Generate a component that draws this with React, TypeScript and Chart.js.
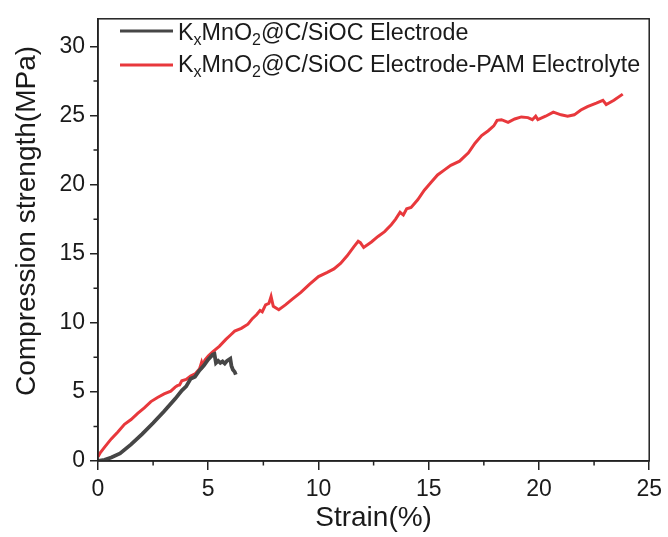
import React, { useEffect, useRef } from "react";
import { Chart, registerables } from "chart.js";

Chart.register(...registerables);

// ---- Data ----
const electrodeStrain = [0, 0.3, 0.6, 1.0, 1.5, 2.0, 2.5, 3.0, 3.5, 3.8, 4.0, 4.2, 4.4, 4.6, 4.8, 5.0, 5.2, 5.28, 5.35, 5.45, 5.55, 5.65, 5.75, 5.85, 6.0, 6.05, 6.12, 6.2, 6.25];
const electrodeStress = [0, 0.08, 0.25, 0.55, 1.2, 1.95, 2.75, 3.6, 4.5, 5.1, 5.4, 5.95, 6.1, 6.55, 6.9, 7.35, 7.7, 7.75, 7.1, 7.25, 7.1, 7.2, 7.05, 7.25, 7.4, 6.9, 6.6, 6.45, 6.25];

const pamStrain = [0, 0.1, 0.3, 0.6, 0.9, 1.2, 1.5, 1.8, 2.1, 2.4, 2.7, 3.0, 3.3, 3.5, 3.6, 3.7, 3.8, 4.0, 4.2, 4.4, 4.6, 4.7, 4.75, 4.85, 5.0, 5.2, 5.5, 5.8, 6.0, 6.2, 6.5, 6.8, 7.0, 7.2, 7.35, 7.45, 7.6, 7.75, 7.85, 7.95, 8.2, 8.5, 8.8, 9.2, 9.6, 10.0, 10.4, 10.7, 11.0, 11.3, 11.6, 11.8, 11.9, 12.05, 12.4, 12.7, 13.0, 13.3, 13.5, 13.7, 13.85, 14.0, 14.2, 14.5, 14.8, 15.1, 15.4, 15.7, 16.0, 16.4, 16.8, 17.1, 17.4, 17.7, 17.95, 18.1, 18.3, 18.6, 18.9, 19.2, 19.5, 19.7, 19.85, 19.95, 20.3, 20.65, 21.0, 21.3, 21.6, 21.9, 22.2, 22.6, 22.9, 23.05, 23.4, 23.8];
const pamStress = [0.3, 0.6, 1.0, 1.6, 2.1, 2.65, 3.0, 3.45, 3.85, 4.3, 4.6, 4.85, 5.05, 5.35, 5.45, 5.5, 5.8, 5.9, 6.15, 6.3, 6.65, 7.15, 6.9, 7.3, 7.6, 7.9, 8.3, 8.8, 9.1, 9.4, 9.6, 9.9, 10.3, 10.6, 10.9, 10.8, 11.3, 11.4, 11.9, 11.2, 10.95, 11.3, 11.7, 12.2, 12.8, 13.35, 13.65, 13.9, 14.3, 14.85, 15.5, 15.9, 15.8, 15.45, 15.85, 16.25, 16.6, 17.1, 17.5, 18.0, 17.8, 18.25, 18.35, 18.9, 19.6, 20.15, 20.7, 21.05, 21.4, 21.7, 22.3, 23.0, 23.55, 23.9, 24.25, 24.65, 24.7, 24.5, 24.75, 24.9, 24.85, 24.7, 24.95, 24.7, 24.95, 25.25, 25.05, 24.95, 25.05, 25.4, 25.65, 25.9, 26.1, 25.8, 26.1, 26.55];

const seriesLabels = ["KₓMnO₂@C/SiOC Electrode", "KₓMnO₂@C/SiOC Electrode-PAM Electrolyte"];
// legend markup: "_c" marks a one-character subscript
const legendMarkup = ["K_xMnO_2@C/SiOC Electrode", "K_xMnO_2@C/SiOC Electrode-PAM Electrolyte"];
const seriesColors = ["#464646", "#e8383c"];

const xMinorTicks = [2.5, 7.5, 12.5, 17.5, 22.5];
const yMinorTicks = [2.5, 7.5, 12.5, 17.5, 22.5, 27.5];

const xTitle = "Strain(%)";
const yTitle = "Compression strength(MPa)";

const FONT = "'Liberation Sans', Arial, Helvetica, sans-serif";
const AXIS_COLOR = "#222";
const TEXT_COLOR = "#1a1a1a";

function parseMarkup(s: string) {
  const parts: { text: string; sub: boolean }[] = [];
  let buf = "";
  for (let i = 0; i < s.length; i++) {
    if (s[i] === "_" && i + 1 < s.length) {
      if (buf) parts.push({ text: buf, sub: false });
      buf = "";
      parts.push({ text: s[i + 1], sub: true });
      i++;
    } else buf += s[i];
  }
  if (buf) parts.push({ text: buf, sub: false });
  return parts;
}

const decorPlugin = {
  id: "decor",
  afterDatasetsDraw(chart: any) {
    const { ctx, chartArea: a, scales } = chart;
    ctx.save();
    // frame
    ctx.strokeStyle = AXIS_COLOR;
    ctx.lineWidth = 1.5;
    ctx.strokeRect(a.left, a.top, a.right - a.left, a.bottom - a.top);
    // minor ticks
    ctx.beginPath();
    for (const v of xMinorTicks) {
      const px = scales.x.getPixelForValue(v);
      ctx.moveTo(px, a.bottom);
      ctx.lineTo(px, a.bottom + 4.5);
    }
    for (const v of yMinorTicks) {
      const py = scales.y.getPixelForValue(v);
      ctx.moveTo(a.left, py);
      ctx.lineTo(a.left - 4.5, py);
    }
    ctx.stroke();
    // y axis title
    ctx.save();
    ctx.translate(27, 221);
    ctx.rotate(-Math.PI / 2);
    ctx.font = `28px ${FONT}`;
    ctx.fillStyle = TEXT_COLOR;
    ctx.textAlign = "center";
    ctx.textBaseline = "middle";
    ctx.fillText(yTitle, 0, 0);
    ctx.restore();
    // legend
    const lineRows = [31, 65];
    const textBase = [40, 72];
    legendMarkup.forEach((m, i) => {
      const cy = lineRows[i];
      ctx.strokeStyle = seriesColors[i];
      ctx.lineWidth = 3;
      ctx.beginPath();
      ctx.moveTo(120, cy);
      ctx.lineTo(173, cy);
      ctx.stroke();
      let x = 178;
      const base = textBase[i];
      ctx.fillStyle = TEXT_COLOR;
      ctx.textBaseline = "alphabetic";
      ctx.textAlign = "left";
      for (const p of parseMarkup(m)) {
        ctx.font = p.sub ? `16px ${FONT}` : `23.3px ${FONT}`;
        ctx.fillText(p.text, x, p.sub ? base + 5 : base);
        x += ctx.measureText(p.text).width;
      }
    });
    ctx.restore();
  },
};

export default function App() {
  const ref = useRef<HTMLCanvasElement | null>(null);

  useEffect(() => {
    if (!ref.current) return;
    const chart = new Chart(ref.current, {
      type: "line",
      data: {
        datasets: [
          {
            label: seriesLabels[0],
            data: electrodeStrain.map((x, i) => ({ x, y: electrodeStress[i] })),
            borderColor: seriesColors[0],
            backgroundColor: seriesColors[0],
            borderWidth: 3.8,
            pointRadius: 0,
            tension: 0,
            fill: false,
          },
          {
            label: seriesLabels[1],
            data: pamStrain.map((x, i) => ({ x, y: pamStress[i] })),
            borderColor: seriesColors[1],
            backgroundColor: seriesColors[1],
            borderWidth: 3,
            pointRadius: 0,
            tension: 0,
            fill: false,
          },
        ],
      },
      options: {
        responsive: false,
        animation: false,
        layout: { padding: { top: 16, right: 17, left: 0, bottom: 0 } },
        plugins: {
          legend: { display: false },
          tooltip: { enabled: false },
        },
        scales: {
          x: {
            type: "linear",
            min: 0,
            max: 25,
            afterFit: (s: any) => {
              s.height = 76;
            },
            ticks: {
              stepSize: 5,
              color: TEXT_COLOR,
              font: { family: FONT, size: 23 },
              padding: 6,
              maxRotation: 0,
            },
            grid: {
              drawOnChartArea: false,
              drawTicks: true,
              tickLength: 9,
              color: AXIS_COLOR,
              lineWidth: 1.5,
            },
            border: { display: true, color: AXIS_COLOR, width: 1.5 },
            title: {
              display: true,
              text: xTitle,
              color: TEXT_COLOR,
              font: { family: FONT, size: 28 },
              padding: { top: 0, bottom: 2 },
            },
          },
          y: {
            type: "linear",
            min: 0,
            max: 32,
            afterFit: (s: any) => {
              s.width = 98;
            },
            ticks: {
              stepSize: 5,
              includeBounds: false,
              color: TEXT_COLOR,
              font: { family: FONT, size: 23 },
              padding: 5,
            },
            grid: {
              drawOnChartArea: false,
              drawTicks: true,
              tickLength: 8,
              color: AXIS_COLOR,
              lineWidth: 1.5,
            },
            border: { display: true, color: AXIS_COLOR, width: 1.5 },
            title: { display: false, text: yTitle },
          },
        },
      },
      plugins: [decorPlugin],
    } as any);
    return () => chart.destroy();
  }, []);

  return (
    <div style={{ position: "absolute", left: 0, top: 0, width: 668, height: 537, background: "#fff" }}>
      <canvas ref={ref} width={668} height={537} style={{ display: "block" }} />
    </div>
  );
}
